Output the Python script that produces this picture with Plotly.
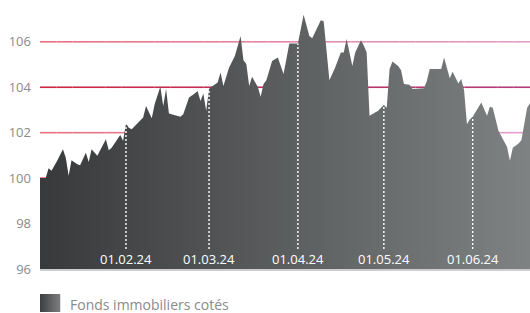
import plotly.graph_objects as go

dates = [
    "2024-01-02", "2024-01-04", "2024-01-05", "2024-01-06", "2024-01-08", "2024-01-10",
    "2024-01-11", "2024-01-12", "2024-01-13", "2024-01-15", "2024-01-16", "2024-01-18",
    "2024-01-19", "2024-01-20", "2024-01-22", "2024-01-25", "2024-01-26", "2024-01-27",
    "2024-01-30", "2024-01-31", "2024-02-01", "2024-02-02", "2024-02-03", "2024-02-06",
    "2024-02-07", "2024-02-08", "2024-02-10", "2024-02-11", "2024-02-13", "2024-02-14",
    "2024-02-15", "2024-02-16", "2024-02-18", "2024-02-20", "2024-02-21", "2024-02-23",
    "2024-02-25", "2024-02-26", "2024-02-27", "2024-02-28", "2024-02-29", "2024-03-01",
    "2024-03-04", "2024-03-05", "2024-03-06", "2024-03-08", "2024-03-10", "2024-03-12",
    "2024-03-13", "2024-03-14", "2024-03-15", "2024-03-16", "2024-03-18", "2024-03-19",
    "2024-03-20", "2024-03-21", "2024-03-23", "2024-03-25", "2024-03-27", "2024-03-29",
    "2024-04-01", "2024-04-03", "2024-04-05", "2024-04-06", "2024-04-09", "2024-04-10",
    "2024-04-12", "2024-04-14", "2024-04-16", "2024-04-17", "2024-04-18", "2024-04-20",
    "2024-04-21", "2024-04-23", "2024-04-24", "2024-04-25", "2024-04-26", "2024-04-29",
    "2024-05-01", "2024-05-02", "2024-05-03", "2024-05-04", "2024-05-06", "2024-05-07",
    "2024-05-08", "2024-05-10", "2024-05-11", "2024-05-15", "2024-05-16", "2024-05-17",
    "2024-05-21", "2024-05-22", "2024-05-24", "2024-05-25", "2024-05-27", "2024-05-28",
    "2024-05-29", "2024-05-30", "2024-05-31", "2024-06-01", "2024-06-04", "2024-06-06",
    "2024-06-07", "2024-06-08", "2024-06-10", "2024-06-13", "2024-06-14", "2024-06-15",
    "2024-06-17", "2024-06-18", "2024-06-20", "2024-06-21",
]
values = [
    100.0, 100.0, 100.44, 100.32, 100.76, 101.27,
    100.9, 100.1, 100.79, 100.61, 100.57, 101.12,
    100.71, 101.27, 100.98, 101.71, 101.23, 101.34,
    101.9, 101.64, 102.4, 102.22, 102.15, 102.55,
    102.67, 103.18, 102.64, 103.25, 104.02, 103.18,
    103.92, 102.84, 102.78, 102.7, 102.81, 103.55,
    103.72, 103.84, 103.4, 103.72, 102.96, 103.95,
    104.21, 104.65, 104.06, 104.87, 105.38, 106.26,
    105.19, 105.02, 104.06, 104.46, 104.02, 103.58,
    104.14, 104.31, 105.16, 105.31, 104.58, 105.93,
    105.93, 107.19, 106.26, 106.16, 106.95, 106.9,
    104.31, 104.87, 105.53, 105.53, 106.12, 104.94,
    105.53, 106.07, 105.84, 105.53, 102.74, 102.96,
    103.22, 103.1, 104.8, 105.13, 104.94, 104.75,
    104.14, 104.11, 103.92, 103.96, 104.28, 104.8,
    104.8, 105.31, 104.4, 104.68, 104.17, 104.36,
    103.87, 102.37, 102.59, 102.7, 103.33, 102.74,
    103.14, 103.1, 102.08, 101.37, 100.76, 101.34,
    101.52, 101.67, 103.1, 103.3,
]
month_dates = ["2024-02-01", "2024-03-01", "2024-04-01", "2024-05-01", "2024-06-01"]
month_labels = ["01.02.24", "01.03.24", "01.04.24", "01.05.24", "01.06.24"]
y_ticks = [96, 98, 100, 102, 104, 106]
grid_levels = [100, 102, 104, 106]
series_name = "Fonds immobiliers cotés"

FONT = "Open Sans"


def mix(c0, c1, t):
    a = [int(c0[i:i + 2], 16) for i in (1, 3, 5)]
    b = [int(c1[i:i + 2], 16) for i in (1, 3, 5)]
    return "#" + "".join("%02x" % round(a[k] + (b[k] - a[k]) * t) for k in range(3))


fig = go.Figure()
fig.add_trace(go.Scatter(
    x=dates, y=values, mode="lines", name=series_name,
    line=dict(width=0, color="#555759"),
    fill="tozeroy",
    fillgradient=dict(type="horizontal",
                      colorscale=[[0, "#37393b"], [1, "#7f8283"]]),
    showlegend=False, hoverinfo="skip",
))

lookup = dict(zip(dates, values))
for md, lab in zip(month_dates, month_labels):
    fig.add_trace(go.Scatter(
        x=[md, md], y=[96.88, lookup[md]], mode="lines",
        line=dict(color="white", width=1.4, dash="2px,2px"),
        showlegend=False, hoverinfo="skip",
    ))
    fig.add_annotation(x=md, y=96.42, text=lab, showarrow=False,
                       font=dict(family=FONT, size=13, color="white"),
                       xanchor="center", yanchor="middle")

# horizontal gridlines with a red -> pink gradient
shapes = []
N = 30
for lvl in grid_levels:
    if lvl in (100, 104):
        c0, c1 = ("#cf2640", "#b23a7c") if lvl == 104 else ("#e0505f", "#d07aa8")
    else:
        c0, c1 = "#ea6f7f", "#e2a0cc"
    for i in range(N):
        shapes.append(dict(type="line", xref="x domain", yref="y",
                           x0=i / N, x1=(i + 1) / N, y0=lvl, y1=lvl,
                           line=dict(color=mix(c0, c1, (i + 0.5) / N), width=1.6),
                           layer="below"))

# legend swatch (manual, gradient strips)
W, H = 490.0, 259.0
sx0, sx1 = 0.0, 20 / W
sy0, sy1 = -(294 - 269) / H, -(312 - 269) / H
M = 10
for i in range(M):
    shapes.append(dict(type="rect", xref="paper", yref="paper",
                       x0=sx0 + (sx1 - sx0) * i / M, x1=sx0 + (sx1 - sx0) * (i + 1) / M + 0.0005,
                       y0=sy1, y1=sy0, line=dict(width=0),
                       fillcolor=mix("#3c3e40", "#7c7e80", (i + 0.5) / M)))
fig.add_annotation(xref="paper", yref="paper", x=28 / W, y=-(304 - 269) / H,
                   text=series_name, showarrow=False, xanchor="left", yanchor="middle",
                   font=dict(family=FONT, size=14, color="#8a8a8a"))

fig.update_layout(
    width=530, height=313,
    margin=dict(l=40, r=0, t=10, b=44, autoexpand=False),
    paper_bgcolor="white", plot_bgcolor="white",
    shapes=shapes,
    xaxis=dict(range=["2024-01-02", "2024-06-21"], showgrid=False, zeroline=False,
               showticklabels=False, ticks="", showline=True, linecolor="#cdcdcd",
               linewidth=2),
    yaxis=dict(range=[96, 107.4], tickvals=y_ticks, showgrid=False, zeroline=False,
               ticks="", showline=False,
               tickfont=dict(family=FONT, size=13, color="#8a8a8a"),
               ticklabelstandoff=8),
    showlegend=False,
)

fig.write_html("out.html", config={"displayModeBar": False, "staticPlot": True},
               post_script="document.body.style.margin='0';document.body.style.padding='0';"
                           "document.documentElement.style.overflow='hidden';")
